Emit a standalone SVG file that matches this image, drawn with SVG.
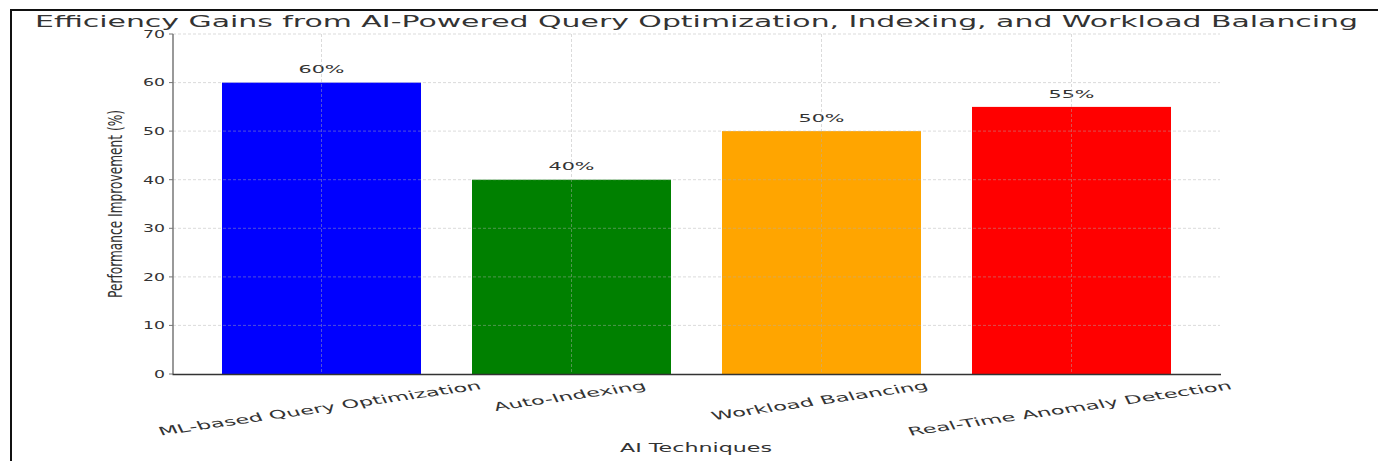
<svg xmlns="http://www.w3.org/2000/svg" width="1378" height="461" viewBox="0 0 1378 461">
  <style>
    text { font-family: "DejaVu Sans", "Liberation Sans", sans-serif; fill: #333; }
    .tick { font-size: 10.5px; text-anchor: end; }
    .val { font-size: 11px; text-anchor: middle; }
    .xlab { font-size: 11.5px; text-anchor: middle; }
    .grid { stroke: #b0b0b0; stroke-opacity: 0.45; stroke-width: 1; stroke-dasharray: 3 2; fill: none; }
    .frame { stroke: #111; stroke-width: 2; fill: none; }
  </style>
  <rect width="1378" height="461" fill="#fff"/>

  <!-- outer frame (top and left edges) -->
  <path class="frame" d="M11 461 V10 H1378"/>

  <!-- title -->
  <text x="35" y="27" font-size="16" fill="#3c3c3c" textLength="1323" lengthAdjust="spacingAndGlyphs">Efficiency Gains from AI-Powered Query Optimization, Indexing, and Workload Balancing</text>

  <!-- bars -->
  <g id="bar-ml-query-optimization">
    <rect x="222" y="82.6" width="199" height="291.4" fill="#0000ff"/>
    <text class="val" x="321.5" y="73" textLength="46" lengthAdjust="spacingAndGlyphs">60%</text>
  </g>
  <g id="bar-auto-indexing">
    <rect x="472" y="179.7" width="199" height="194.3" fill="#008000"/>
    <text class="val" x="571.5" y="170" textLength="46" lengthAdjust="spacingAndGlyphs">40%</text>
  </g>
  <g id="bar-workload-balancing">
    <rect x="722" y="131.1" width="199" height="242.9" fill="#ffa500"/>
    <text class="val" x="821.5" y="121.5" textLength="46" lengthAdjust="spacingAndGlyphs">50%</text>
  </g>
  <g id="bar-anomaly-detection">
    <rect x="972" y="106.9" width="199" height="267.1" fill="#ff0000"/>
    <text class="val" x="1071.5" y="97.5" textLength="46" lengthAdjust="spacingAndGlyphs">55%</text>
  </g>

  <!-- grid (drawn over the bars) -->
  <g id="grid">
    <path class="grid" d="M173 34 H1220 M173 82.6 H1220 M173 131.1 H1220 M173 179.7 H1220 M173 228.3 H1220 M173 276.9 H1220 M173 325.4 H1220"/>
    <path class="grid" d="M321.5 34 V374 M571.5 34 V374 M821.5 34 V374 M1071.5 34 V374"/>
  </g>

  <!-- axes -->
  <g id="axes">
    <path d="M173 34 V374.5" stroke="#777" stroke-width="1.5" fill="none"/>
    <path d="M172.5 374.5 H1221" stroke="#333" stroke-width="1.5" fill="none"/>
    <path d="M169 34 H173 M169 82.6 H173 M169 131.1 H173 M169 179.7 H173 M169 228.3 H173 M169 276.9 H173 M169 325.4 H173 M169 374 H173" stroke="#777" stroke-width="1"/>
  </g>

  <!-- y tick labels -->
  <g id="y-ticks">
    <text class="tick" x="165" y="38.3" textLength="22" lengthAdjust="spacingAndGlyphs">70</text>
    <text class="tick" x="165" y="86.4" textLength="22" lengthAdjust="spacingAndGlyphs">60</text>
    <text class="tick" x="165" y="134.9" textLength="22" lengthAdjust="spacingAndGlyphs">50</text>
    <text class="tick" x="165" y="183.5" textLength="22" lengthAdjust="spacingAndGlyphs">40</text>
    <text class="tick" x="165" y="232.1" textLength="22" lengthAdjust="spacingAndGlyphs">30</text>
    <text class="tick" x="165" y="280.7" textLength="22" lengthAdjust="spacingAndGlyphs">20</text>
    <text class="tick" x="165" y="329.2" textLength="22" lengthAdjust="spacingAndGlyphs">10</text>
    <text class="tick" x="165" y="377.8" textLength="11" lengthAdjust="spacingAndGlyphs">0</text>
  </g>

  <!-- x tick labels (rotated) -->
  <g id="x-ticks">
    <text class="xlab" transform="translate(321.5 412.3) scale(1.85 1) rotate(-15)" textLength="180" lengthAdjust="spacingAndGlyphs">ML-based Query Optimization</text>
    <text class="xlab" transform="translate(571.5 400) scale(1.85 1) rotate(-15)" textLength="84.7" lengthAdjust="spacingAndGlyphs">Auto-Indexing</text>
    <text class="xlab" transform="translate(821.5 404.6) scale(1.85 1) rotate(-15)" textLength="120.6" lengthAdjust="spacingAndGlyphs">Workload Balancing</text>
    <text class="xlab" transform="translate(1071.5 412.4) scale(1.85 1) rotate(-15)" textLength="180.5" lengthAdjust="spacingAndGlyphs">Real-Time Anomaly Detection</text>
  </g>

  <!-- axis titles -->
  <text x="696" y="451.5" font-size="12.5" text-anchor="middle" textLength="152" lengthAdjust="spacingAndGlyphs">AI Techniques</text>
  <text transform="translate(122 204) scale(1.6 1) rotate(-90)" font-size="12" text-anchor="middle" textLength="188" lengthAdjust="spacingAndGlyphs">Performance Improvement (%)</text>
</svg>
